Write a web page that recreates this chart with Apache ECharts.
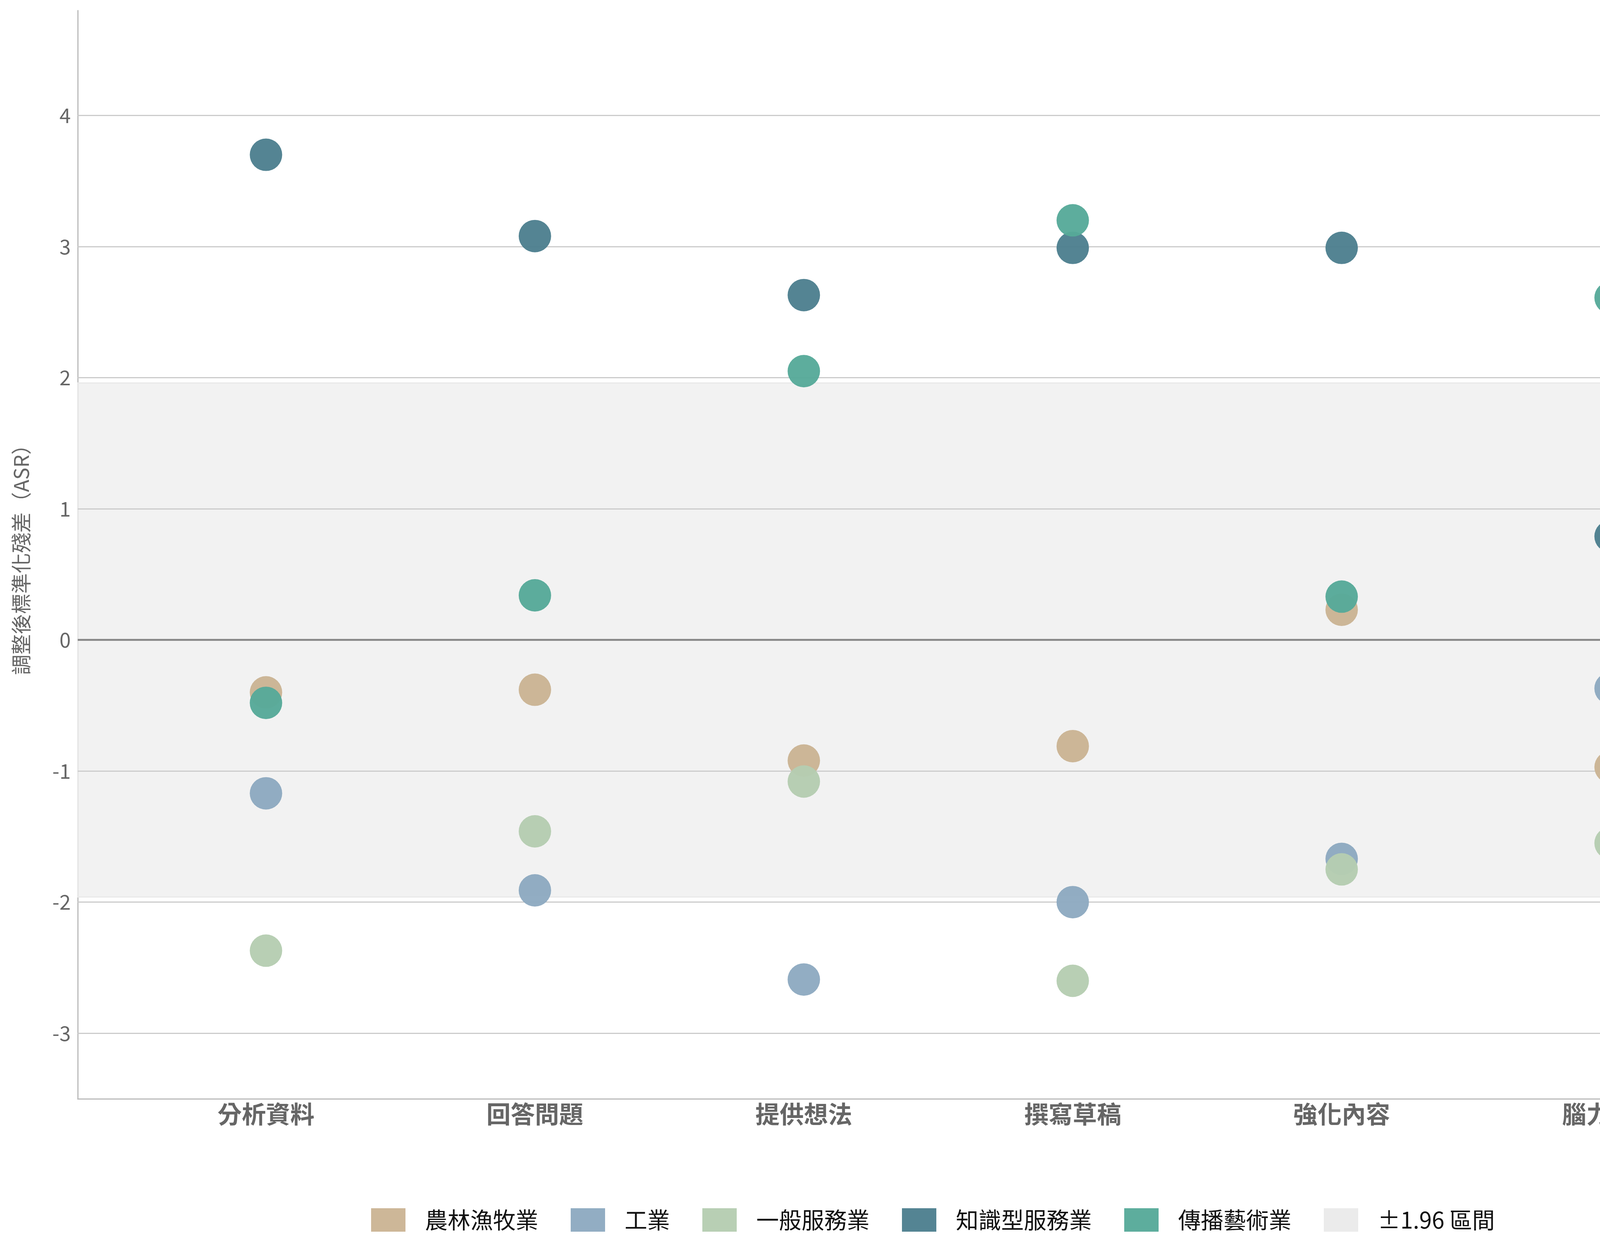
<!DOCTYPE html>
<html>
<head>
<meta charset="utf-8">
<script src="https://cdn.jsdelivr.net/npm/echarts@6/dist/echarts.min.js"></script>
<style>
  html, body { margin: 0; padding: 0; background: #fff; }
  #main { width: 4765px; height: 3204px; }
</style>
</head>
<body>
<div id="main"></div>
<script>
// categories on the x axis
const categories = ['分析資料', '回答問題', '提供想法', '撰寫草稿', '強化內容', '腦力激盪'];
// industry groups (legend order)
const groupNames = ['農林漁牧業', '工業', '一般服務業', '知識型服務業', '傳播藝術業'];
const bandName = '±1.96 區間';
// ASR values per group, one per category
const agriculture = [-0.40, -0.38, -0.92, -0.81, 0.23, -0.97];
const industry = [-1.17, -1.91, -2.59, -2.00, -1.67, -0.37];
const generalService = [-2.37, -1.46, -1.08, -2.60, -1.75, -1.55];
const knowledgeService = [3.70, 3.08, 2.63, 2.99, 2.99, 0.79];
const mediaArts = [-0.48, 0.34, 2.05, 3.20, 0.33, 2.61];
// horizontal grid lines (0 gets its own darker line)
const gridTicks = [-3, -2, -1, 1, 2, 3, 4];
const threshold = 1.96;

const groupValues = [agriculture, industry, generalService, knowledgeService, mediaArts];
const groupColors = ['#cbb494', '#8eaac1', '#b5cdb1', '#4d7f8f', '#56aa99'];

const font = "'Noto Sans CJK TC', 'Noto Sans', sans-serif";
const isInt = v => Math.abs(v - Math.round(v)) < 1e-6;

let chart = echarts.init(document.getElementById('main'));

let scatterSeries = groupNames.map((name, g) => ({
  name: name,
  type: 'scatter',
  z: 5,
  symbol: 'circle',
  symbolSize: 83,
  itemStyle: { color: groupColors[g], opacity: 0.96 },
  data: categories.map((c, i) => [i, groupValues[g][i]])
}));

let option = {
  animation: false,
  textStyle: { fontFamily: font },
  grid: { left: 199, right: 160, top: 27, bottom: 392, containLabel: false },
  legend: {
    data: groupNames.concat([bandName]),
    top: 3087,
    left: 945,
    icon: 'rect',
    itemWidth: 88,
    itemHeight: 60,
    itemGap: 83,
    textStyle: { fontSize: 58, color: '#111', fontFamily: font, padding: [0, 0, 0, 45] }
  },
  xAxis: {
    type: 'value',
    min: -0.7,
    max: 5.7,
    splitNumber: 6,
    axisLine: { show: true, onZero: false, lineStyle: { color: '#bbb', width: 3 } },
    axisTick: { show: false },
    splitLine: { show: false },
    axisLabel: {
      margin: 8,
      fontSize: 62,
      fontWeight: 'bold',
      color: '#666',
      formatter: v => (isInt(v) && categories[Math.round(v)]) ? categories[Math.round(v)] : ''
    }
  },
  yAxis: {
    type: 'value',
    min: -3.5,
    max: 4.8,
    splitNumber: 8,
    name: '調整後標準化殘差（ASR）',
    nameLocation: 'middle',
    nameGap: 119,
    nameTextStyle: { fontSize: 52, color: '#666' },
    axisLine: { show: true, onZero: false, lineStyle: { color: '#bbb', width: 3 } },
    axisTick: { show: false },
    splitLine: { show: false },
    axisLabel: {
      margin: 18,
      fontSize: 52,
      color: '#666',
      formatter: v => isInt(v) ? String(Math.round(v)) : ''
    }
  },
  series: [
    {
      // ±1.96 band + its labels
      name: bandName,
      type: 'scatter',
      z: 1,
      data: [],
      itemStyle: { color: '#e6e6e6' },
      markArea: {
        silent: true,
        itemStyle: { color: 'rgba(230,230,230,0.5)', borderColor: '#eaeaea', borderWidth: 3 },
        data: [[{ yAxis: -threshold }, { yAxis: threshold }]]
      },
      markLine: {
        silent: true,
        symbol: 'none',
        lineStyle: { color: '#eaeaea', width: 3, type: 'solid' },
        label: {
          show: true,
          position: 'end',
          distance: 2,
          fontSize: 50,
          fontWeight: 'bold',
          color: '#555',
          fontFamily: font
        },
        data: [
          { yAxis: threshold, label: { formatter: '+1.96' } },
          { yAxis: -threshold, label: { formatter: '\u22121.96' } }
        ]
      }
    },
    {
      // grid lines
      name: 'grid',
      type: 'scatter',
      z: 2,
      data: [],
      markLine: {
        silent: true,
        symbol: 'none',
        label: { show: false },
        lineStyle: { color: '#cccccc', width: 3, type: 'solid' },
        data: gridTicks.map(v => ({ yAxis: v })).concat([
          { yAxis: 0, lineStyle: { color: '#8a8a8a', width: 5, type: 'solid' } }
        ])
      }
    }
  ].concat(scatterSeries)
};

chart.setOption(option);
</script>
</body>
</html>
